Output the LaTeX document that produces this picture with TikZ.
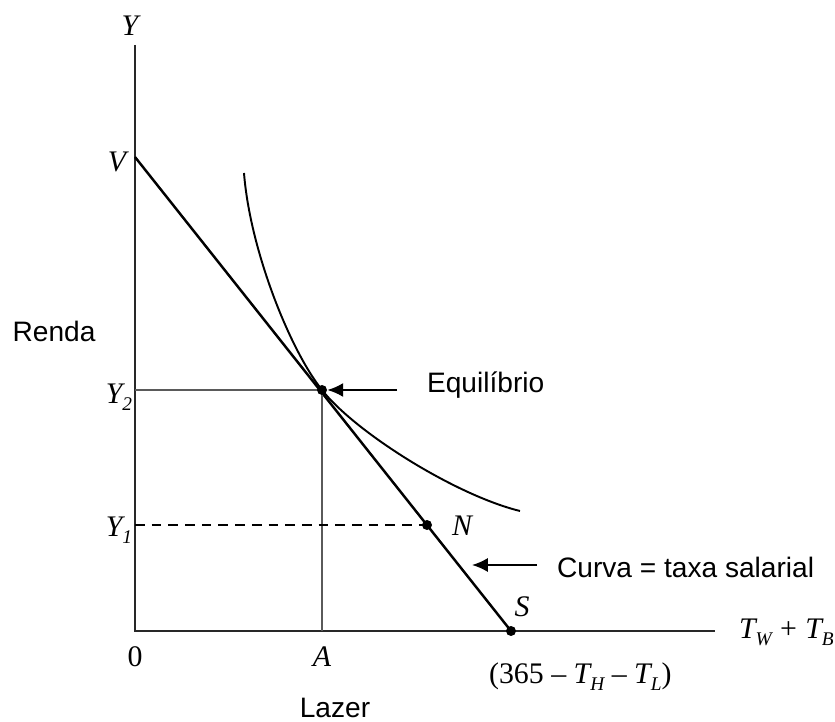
\documentclass[tikz,border=0pt]{standalone}
\usepackage{fontspec}
\setmainfont{Liberation Sans}
\newfontfamily\tms{Liberation Serif}
\usetikzlibrary{arrows.meta}
\definecolor{axisgray}{RGB}{40,40,40}
\definecolor{guidegray}{RGB}{90,90,90}
\newcommand{\lbl}[1]{{\tms\itshape #1}}
\newcommand{\lsub}[1]{\raisebox{-0.45ex}{\fontsize{11}{12}\selectfont\tms\itshape #1}}

\begin{document}
\begin{tikzpicture}[x=0.02cm, y=-0.02cm,
    every node/.style={inner sep=1pt},
    mathlbl/.style={font=\fontsize{17}{19}\selectfont},
    txtlbl/.style={font=\fontsize{16}{18}\selectfont},
    dot/.style={circle, fill=black, inner sep=0pt, minimum size=0.2cm}]
    \useasboundingbox (0,0) rectangle (835,722);
    % axes
    \coordinate (O) at (135,631);
    \coordinate (ytop) at (135,45);
    \coordinate (xend) at (715,631);
    \draw[axisgray, line width=1.4pt] (ytop) -- (O) -- (xend);
    \node[mathlbl] (ylbl) at (130,26) {\lbl{Y}};
    \node[mathlbl, anchor=west] (xlbl) at (737,632) {\lbl{T}\lsub{W} {\tms+} \lbl{T}\lsub{B}};
    \node[mathlbl] (zero) at (135,657) {\tms 0};
    % budget line
    \coordinate (V) at (135,157);
    \coordinate (S) at (511,631);
    \coordinate (E) at (322,390);
    \coordinate (N) at (427,525);
    \draw[black, line width=1.4pt] (V) -- (S);
    % indifference curve
    \coordinate (ctop) at (244,173);
    \coordinate (cend) at (520,511);
    \draw[black, line width=1.1pt] (ctop) .. controls (250,250) and (290,350) .. (E)
        .. controls (355,432) and (455,495) .. (cend);
    % guides
    \coordinate (Y2) at (135,390);
    \coordinate (Y1) at (135,525);
    \coordinate (A) at (322,631);
    \draw[guidegray, line width=0.6pt] (Y2) -- (E) -- (A);
    \draw[black, line width=1pt, dash pattern=on 5.5pt off 4pt] (Y1) -- (N);
    \foreach \p in {E, N, S} {
        \node[dot] (dot\p) at (\p) {};
    }
    % labels on the axes
    \node[mathlbl] (vlbl) at (117,162) {\lbl{V}};
    \node[mathlbl] (y2lbl) at (119,397) {\lbl{Y}\lsub{2}};
    \node[mathlbl] (y1lbl) at (119,530) {\lbl{Y}\lsub{1}};
    \node[mathlbl] (albl) at (322,657) {\lbl{A}};
    \node[mathlbl] (slbl) at (522,607) {\lbl{S}};
    \node[mathlbl] (nlbl) at (462,526) {\lbl{N}};
    \node[mathlbl, anchor=west] (slen) at (487,677) {{\tms(365 – }\lbl{T}\lsub{H}{\tms\ – }\lbl{T}\lsub{L}{\tms)}};
    % texts
    \node[txtlbl] (renda) at (54,331) {Renda};
    \node[txtlbl] (lazer) at (335,708) {Lazer};
    \node[txtlbl, anchor=west] (equil) at (425,385) {Equilíbrio};
    \node[txtlbl, anchor=west] (curva) at (555,567) {Curva = taxa salarial};
    \coordinate (eqtail) at (397,390);
    \coordinate (cvtail) at (537,565);
    \coordinate (cvhead) at (472,565);
    \draw[-{Latex[length=9pt, width=8pt]}, line width=1.1pt] (eqtail) -- (dotE);
    \draw[-{Latex[length=9pt, width=8pt]}, line width=1.1pt] (cvtail) -- (cvhead);
\end{tikzpicture}
\end{document}
